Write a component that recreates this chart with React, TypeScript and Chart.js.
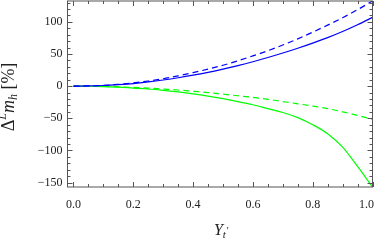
import React, { useEffect, useRef } from "react";
import { Chart, registerables } from "chart.js";

Chart.register(...registerables);

const xValues = [0, 0.05, 0.1, 0.15, 0.2, 0.25, 0.3, 0.35, 0.4, 0.45, 0.5, 0.55, 0.6, 0.65, 0.7, 0.75, 0.8, 0.85, 0.9, 0.95, 1.0];
const blueSolid = [0, 0.3, 1, 2.3, 4, 6.5, 9.5, 13, 17, 21.5, 26.5, 32, 38, 44.5, 51.5, 59, 67, 75.5, 85, 95.5, 107];
const blueDashed = [0, 0.3, 1.2, 2.8, 5, 8, 11.5, 16, 21, 26.5, 32.5, 39.5, 47, 55, 64, 73.5, 84, 95, 106.5, 119, 132.5];
const greenDashed = [0, -0.1, -0.5, -1.1, -2, -3, -4.5, -6, -8, -10, -12.5, -15, -17.5, -20.5, -24, -27.5, -31, -35, -40, -45.5, -51.5];
const greenSolid = [0, -0.2, -0.7, -1.5, -3, -4.5, -6.5, -9, -12, -15.5, -19.5, -24, -29, -35, -41, -49, -60, -74, -95, -125, -157];

const xTicks = [0, 0.2, 0.4, 0.6, 0.8, 1.0];
const xTickLabels = ["0.0", "0.2", "0.4", "0.6", "0.8", "1.0"];
const yTicks = [-150, -100, -50, 0, 50, 100];
const xMinor = [0.05, 0.1, 0.15, 0.25, 0.3, 0.35, 0.45, 0.5, 0.55, 0.65, 0.7, 0.75, 0.85, 0.9, 0.95];
const yMinor = [-140, -130, -120, -110, -90, -80, -70, -60, -40, -30, -20, -10, 10, 20, 30, 40, 60, 70, 80, 90, 110, 120, 130];

const FONT = "'Liberation Serif', 'Times New Roman', serif";
const FRAME = "#555555";
const TEXT = "#222222";

const pts = (ys: number[]) => xValues.map((x, i) => ({ x, y: ys[i] }));

const framePlugin = {
  id: "frameTicks",
  afterDraw(chart: any) {
    const { ctx, chartArea: a, scales, width } = chart;
    const xs = scales.x;
    const ys = scales.y;
    ctx.save();
    ctx.strokeStyle = FRAME;
    ctx.lineWidth = 1;
    ctx.strokeRect(a.left, a.top, a.right - a.left, a.bottom - a.top);
    ctx.beginPath();
    const xt = (v: number, len: number) => {
      const p = Math.round(xs.getPixelForValue(v)) + 0.5;
      ctx.moveTo(p, a.bottom);
      ctx.lineTo(p, a.bottom - len);
      ctx.moveTo(p, a.top);
      ctx.lineTo(p, a.top + len);
    };
    const yt = (v: number, len: number) => {
      const p = Math.round(ys.getPixelForValue(v)) + 0.5;
      ctx.moveTo(a.left, p);
      ctx.lineTo(a.left + len, p);
      ctx.moveTo(a.right, p);
      ctx.lineTo(a.right - len, p);
    };
    xTicks.forEach((v) => xt(v, 5));
    xMinor.forEach((v) => xt(v, 3));
    yTicks.forEach((v) => yt(v, 5));
    yMinor.forEach((v) => yt(v, 3));
    ctx.stroke();

    // x tick labels, kept inside the canvas
    ctx.fillStyle = TEXT;
    ctx.font = `12px ${FONT}`;
    ctx.textBaseline = "middle";
    ctx.textAlign = "left";
    xTicks.forEach((v, i) => {
      const t = xTickLabels[i];
      const w = ctx.measureText(t).width;
      let x0 = xs.getPixelForValue(v) - w / 2;
      if (x0 + w > width) x0 = width - w;
      ctx.fillText(t, x0, a.bottom + 18);
    });

    ctx.textBaseline = "alphabetic";
    const parts = (items: [string, string, number][]) => {
      let w = 0;
      items.forEach(([t, f]) => {
        ctx.font = f;
        w += ctx.measureText(t).width;
      });
      return w;
    };
    const drawParts = (items: [string, string, number][], x0: number, y0: number) => {
      let x = x0;
      items.forEach(([t, f, dy]) => {
        ctx.font = f;
        ctx.fillText(t, x, y0 + dy);
        x += ctx.measureText(t).width;
      });
    };
    const big = `18px ${FONT}`;
    const bigI = `italic 18px ${FONT}`;
    const smallI = `italic 12px ${FONT}`;

    const yTitle: [string, string, number][] = [
      ["Δ", big, 0],
      ["L", smallI, -8],
      ["m", bigI, 0],
      ["h", smallI, 3],
      [" [%]", big, 0],
    ];
    const cy = (a.top + a.bottom) / 2 + 3;
    ctx.save();
    ctx.translate(14, cy);
    ctx.rotate(-Math.PI / 2);
    const wy = parts(yTitle);
    drawParts(yTitle, -wy / 2, 0);
    ctx.restore();

    const xTitle: [string, string, number][] = [
      ["Y", `italic 16px ${FONT}`, 0],
      ["t", `italic 11px ${FONT}`, 3],
      ["'", `italic 10px ${FONT}`, -1],
    ];
    const cx = (a.left + a.right) / 2 + 1;
    const wx = parts(xTitle);
    drawParts(xTitle, cx - wx / 2, 235);
    ctx.restore();
  },
};

const lineStyle = { pointRadius: 0, cubicInterpolationMode: "monotone" as const, fill: false, borderWidth: 1.2 };

export default function App() {
  const ref = useRef<HTMLCanvasElement | null>(null);
  useEffect(() => {
    if (!ref.current) return;
    const chart = new Chart(ref.current, {
      type: "line",
      data: {
        datasets: [
          { data: pts(blueDashed), borderColor: "#0000ff", borderDash: [6, 4], ...lineStyle },
          { data: pts(blueSolid), borderColor: "#0000ff", ...lineStyle },
          { data: pts(greenDashed), borderColor: "#00ff00", borderDash: [6, 4], ...lineStyle },
          { data: pts(greenSolid), borderColor: "#00ff00", ...lineStyle },
        ],
      },
      options: {
        animation: false,
        responsive: true,
        maintainAspectRatio: false,
        layout: { padding: { top: 1, right: 1.5, left: 0, bottom: 0 } },
        plugins: { legend: { display: false }, tooltip: { enabled: false } },
        scales: {
          x: {
            type: "linear",
            min: -0.02,
            max: 1.0,
            grid: { display: false, drawTicks: false },
            border: { display: false },
            afterBuildTicks: (s: any) => {
              s.ticks = xTicks.map((v) => ({ value: v }));
            },
            afterFit: (s: any) => {
              s.height = 55;
              s.paddingLeft = 0;
              s.paddingRight = 0;
            },
            ticks: { display: false },
          },
          y: {
            type: "linear",
            min: -157,
            max: 132.5,
            grid: { display: false, drawTicks: false },
            border: { display: false },
            afterBuildTicks: (s: any) => {
              s.ticks = yTicks.map((v) => ({ value: v }));
            },
            afterFit: (s: any) => {
              s.width = 67.5;
              s.paddingTop = 0;
              s.paddingBottom = 0;
            },
            ticks: {
              color: TEXT,
              font: { family: FONT, size: 12 },
              padding: 5,
              callback: (v: any) => (Number(v) < 0 ? "−" + Math.abs(Number(v)) : String(v)),
            },
          },
        },
      },
      plugins: [framePlugin],
    });
    return () => chart.destroy();
  }, []);
  return (
    <div style={{ position: "absolute", left: 0, top: 0, width: 374, height: 242 }}>
      <canvas ref={ref} />
    </div>
  );
}
